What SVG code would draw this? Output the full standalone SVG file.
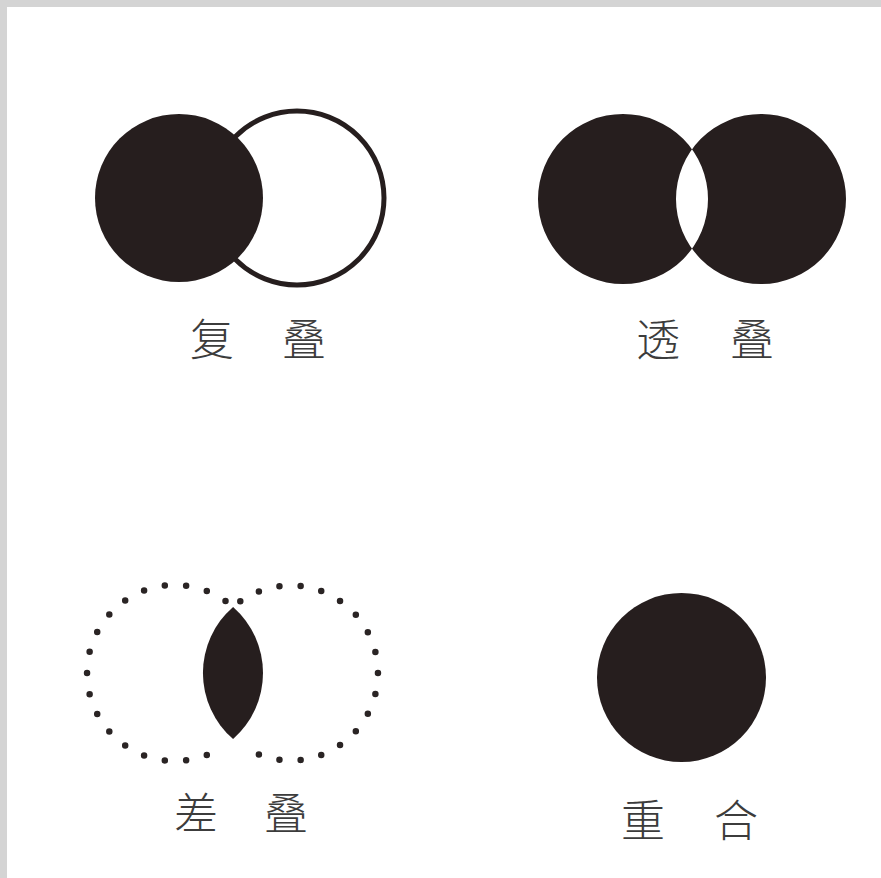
<svg xmlns="http://www.w3.org/2000/svg" width="881" height="878" viewBox="0 0 881 878">
  <style>
    .ink { fill: #261e1e; }
    .ring { fill: none; stroke: #261e1e; stroke-width: 5; }
    .dots { fill: none; stroke: #2a2424; stroke-width: 6.5; stroke-linecap: round; stroke-dasharray: 0 1; }
    .lbl { font-family: "Noto Sans CJK SC", "Noto Sans CJK TC", sans-serif; font-size: 44px; font-weight: 300; fill: #3c3c3c; text-anchor: middle; }
  </style>
  <rect x="0" y="0" width="881" height="878" fill="#d4d4d4"/>
  <rect x="7" y="7" width="874" height="871" fill="#ffffff"/>

  <g id="fudie">
    <circle class="ring" cx="297" cy="198" r="87"/>
    <circle class="ink" cx="179" cy="198" r="84"/>
    <text class="lbl" x="212" y="356">复</text>
    <text class="lbl" x="304" y="356">叠</text>
  </g>

  <g id="toudie">
    <path class="ink" fill-rule="evenodd" d="M538,199 a85,85 0 1 0 170,0 a85,85 0 1 0 -170,0 Z M676,199 a85,85 0 1 0 170,0 a85,85 0 1 0 -170,0 Z"/>
    <text class="lbl" x="658" y="356">透</text>
    <text class="lbl" x="752" y="356">叠</text>
  </g>

  <g id="chadie">
    <path class="dots" pathLength="18" d="M225.5,600.9 A88,88 0 1 0 225.5,745.1"/>
    <path class="dots" pathLength="18" d="M240.3,601.3 A87.5,87.5 0 1 1 240.3,744.7"/>
    <path class="ink" d="M233.1,606.9 A87.5,87.5 0 0 0 233.1,739.1 A88,88 0 0 0 233.1,606.9 Z"/>
    <text class="lbl" x="196" y="830">差</text>
    <text class="lbl" x="286" y="830">叠</text>
  </g>

  <g id="chonghe">
    <circle class="ink" cx="681.5" cy="677.5" r="84.5"/>
    <text class="lbl" x="643" y="837">重</text>
    <text class="lbl" x="736" y="837">合</text>
  </g>

  <g id="connectors"></g>
</svg>
